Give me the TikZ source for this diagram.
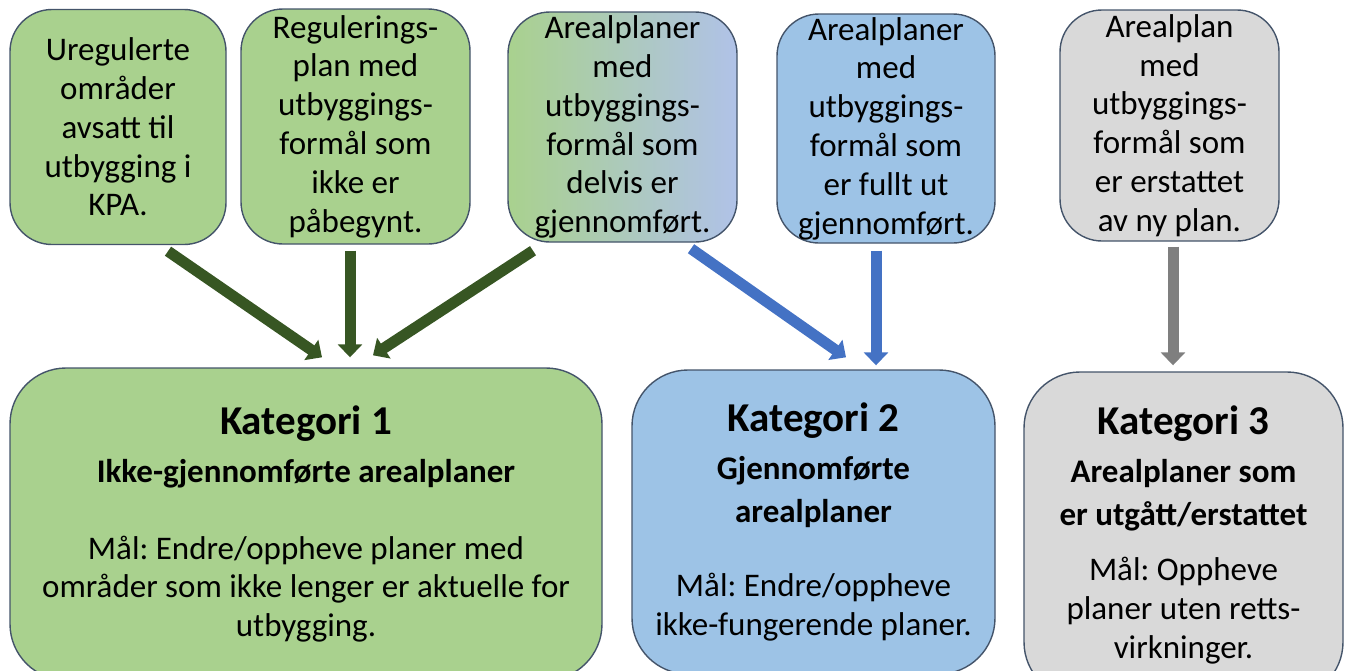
\documentclass[tikz,border=0pt]{standalone}
\usepackage{fontspec}
\setmainfont{Carlito}
\usetikzlibrary{arrows.meta}
\definecolor{boxgreen}{HTML}{A9D18E}
\definecolor{boxlav}{HTML}{B0C2E8}
\definecolor{boxblue}{HTML}{9DC3E6}
\definecolor{boxgray}{HTML}{D9D9D9}
\definecolor{edge}{HTML}{44546A}
\definecolor{arrgreen}{HTML}{375623}
\definecolor{arrblue}{HTML}{4472C4}
\definecolor{arrgray}{HTML}{7F7F7F}
\newcommand\katfont{\fontsize{20.5}{24}\selectfont\bfseries}
\frenchspacing
\begin{document}
\begin{tikzpicture}[x=0.5pt,y=-0.5pt,line join=round,
  box/.style={draw=edge,line width=0.7pt,rounded corners=21pt,align=center,inner sep=0pt,font=\fontsize{16.5}{19.4}\selectfont},
  kat/.style={box,rounded corners=28pt},
  arr/.style={line width=5.5pt,-{Triangle[width=12pt,length=6.5pt]}}]
\def \xmax{1349};
\def \ymax{670};
\useasboundingbox (0,0) rectangle (\xmax,\ymax);
\clip (0,0) rectangle (\xmax,\ymax);
% top row
\node[box,fill=boxgreen,minimum width=108pt,minimum height=117.5pt] (u1) at (118,127) {Uregulerte\\områder\\avsatt til\\utbygging i\\KPA.};
\node[box,fill=boxgreen,minimum width=114.5pt,minimum height=117.5pt] (u2) at (355.5,126.5) {Regulerings-\\plan med\\utbyggings-\\formål som\\ikke er\\påbegynt.};
\node[box,left color=boxgreen,right color=boxlav,minimum width=114.5pt,minimum height=115pt] (u3) at (622.5,127) {Arealplaner\\med\\utbyggings-\\formål som\\delvis er\\gjennomført.};
\node[box,fill=boxblue,minimum width=109pt,minimum height=114.5pt] (u4) at (886,128.5) {Arealplaner\\med\\utbyggings-\\formål som\\er fullt ut\\gjennomført.};
\node[box,fill=boxgray,minimum width=109.5pt,minimum height=115.5pt] (u5) at (1169.5,125.5) {Arealplan\\med\\utbyggings-\\formål som\\er erstattet\\av ny plan.};
% categories
\node[kat,fill=boxgreen,minimum width=296pt,minimum height=156pt] (k1) at (306,524) {{\katfont Kategori 1}\\[4.6pt]\textbf{Ikke-gjennomførte arealplaner}\\[19pt]Mål: Endre/oppheve planer med\\områder som ikke lenger er aktuelle for\\utbygging.};
\node[kat,fill=boxblue,minimum width=181.5pt,minimum height=152pt] (k2) at (813.5,522) {{\katfont Kategori 2}\\[4.6pt]\textbf{Gjennomførte}\\[2pt]\textbf{arealplaner}\\[18pt]Mål: Endre/oppheve\\ikke-fungerende planer.};
\node[kat,fill=boxgray,minimum width=159.5pt,minimum height=163pt] (k3) at (1183.5,535) {{\katfont Kategori 3}\\[4.6pt]\textbf{Arealplaner som}\\[2pt]\textbf{er utgått/erstattet}\\[8pt]Mål: Oppheve\\planer uten retts-\\virkninger.};
% arrows
\foreach \a/\sx/\sy/\b/\tx/\ty/\c in {u1/50/6/k1/16/-10/arrgreen,u2/-5.5/6/k1/44/-10/arrgreen,u3/-89.5/8/k1/67/-12/arrgreen,u3/68.5/6/k2/32.5/-12/arrblue,u4/-10/7/k2/62.5/-4/arrblue,u5/3.5/5/k3/-10.5/-6/arrgray}
  {\draw[arr,\c] ([shift={(\sx,\sy)}]\a.south) -- ([shift={(\tx,\ty)}]\b.north);}
\end{tikzpicture}
\end{document}
